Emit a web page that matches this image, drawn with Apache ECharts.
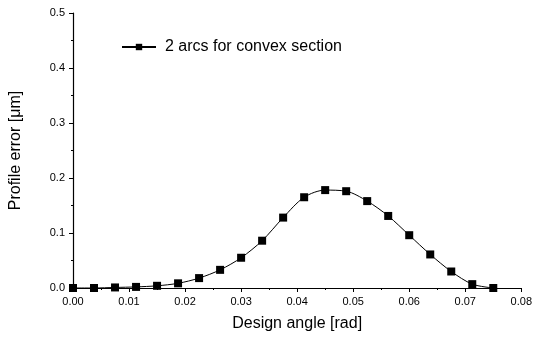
<!DOCTYPE html>
<html>
<head>
<meta charset="utf-8">
<script src="https://cdn.jsdelivr.net/npm/echarts@6/dist/echarts.min.js"></script>
<style>
  html, body { margin: 0; padding: 0; background: #fff; }
  #chart { width: 535px; height: 341px; }
</style>
</head>
<body>
<div id="chart"></div>
<script>
var angles = [0, 0.00375, 0.0075, 0.01125, 0.015, 0.01875, 0.0225, 0.02625, 0.03, 0.03375,
  0.0375, 0.04125, 0.045, 0.04875, 0.0525, 0.05625, 0.06, 0.06375, 0.0675, 0.07125, 0.075];
var errors = [0, 0, 0.001, 0.002, 0.004, 0.0085, 0.018, 0.033, 0.055, 0.086,
  0.128, 0.165, 0.178, 0.176, 0.158, 0.131, 0.096, 0.061, 0.030, 0.007, 0];
var seriesName = '2 arcs for convex section';

var font = 'Liberation Sans, Arial, sans-serif';
var pts = angles.map(function (a, i) { return [a, errors[i]]; });

var option = {
  animation: false,
  backgroundColor: '#fff',
  grid: { left: 71, right: 12, top: 13, bottom: 53 },
  legend: {
    left: 116, top: 34,
    itemWidth: 34, itemHeight: 8,
    textStyle: { fontFamily: font, fontSize: 16, color: '#000', padding: [0, 0, 0, 4] },
    data: [seriesName]
  },
  xAxis: {
    type: 'value', min: 0, max: 0.08, interval: 0.01,
    name: 'Design angle [rad]', nameLocation: 'middle', nameGap: 28,
    nameTextStyle: { fontFamily: font, fontSize: 16, color: '#000' },
    axisLine: { lineStyle: { color: '#000', width: 1.2 } },
    axisTick: { inside: false, length: 4, lineStyle: { color: '#000' } },
    minorTick: { show: true, splitNumber: 2, length: 2, lineStyle: { color: '#000' } },
    splitLine: { show: false },
    axisLabel: {
      fontFamily: font, fontSize: 11, color: '#000', margin: 8,
      formatter: function (v) { return v.toFixed(2); }
    }
  },
  yAxis: {
    type: 'value', min: 0, max: 0.5, interval: 0.1,
    name: 'Profile error [\u03bcm]', nameLocation: 'middle', nameGap: 49,
    nameTextStyle: { fontFamily: font, fontSize: 16, color: '#000' },
    axisLine: { show: true, lineStyle: { color: '#000', width: 1.2 } },
    axisTick: { show: true, inside: false, length: 4, lineStyle: { color: '#000' } },
    minorTick: { show: true, splitNumber: 2, length: 2, lineStyle: { color: '#000' } },
    splitLine: { show: false },
    axisLabel: {
      fontFamily: font, fontSize: 11, color: '#000', margin: 8,
      formatter: function (v) { return v.toFixed(1); }
    }
  },
  series: [{
    name: seriesName,
    type: 'line',
    smooth: 0.3,
    data: pts,
    symbol: 'rect',
    symbolSize: 8,
    itemStyle: { color: '#000' },
    lineStyle: { color: '#000', width: 1 }
  }]
};

var myChart = echarts.init(document.getElementById('chart'));
myChart.setOption(option);
</script>
</body>
</html>
